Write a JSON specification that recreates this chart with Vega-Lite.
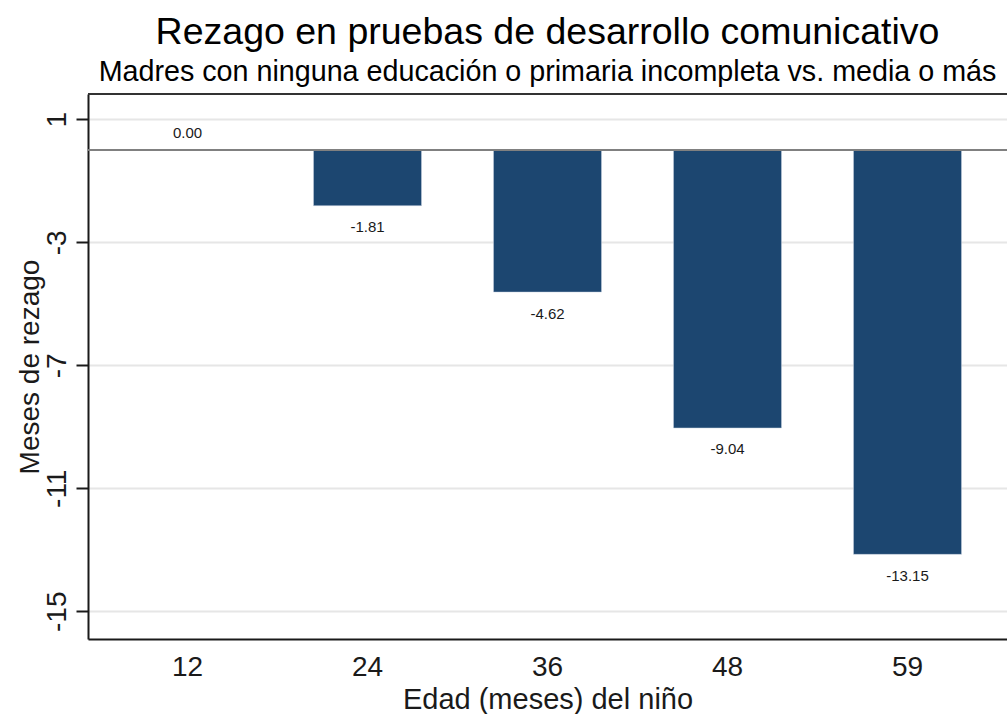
{
  "$schema": "https://vega.github.io/schema/vega-lite/v6.json",
  "autosize": "none",
  "padding": {"left": 88, "top": 94, "right": 0, "bottom": 75},
  "width": 919,
  "height": 545,
  "background": "white",
  "config": {
    "view": {"stroke": null},
    "font": "Liberation Sans",
    "locale": {"number": {"decimal": ".", "thousands": ",", "grouping": [3], "currency": ["$", ""], "minus": "-"}},
    "axis": {"labelFont": "Liberation Sans", "titleFont": "Liberation Sans", "titleFontWeight": "normal"}
  },
  "title": {
    "text": "Rezago en pruebas de desarrollo comunicativo",
    "subtitle": "Madres con ninguna educación o primaria incompleta vs. media o más",
    "font": "Liberation Sans",
    "subtitleFont": "Liberation Sans",
    "fontSize": 37.5,
    "fontWeight": "normal",
    "subtitleFontSize": 28.7,
    "color": "#000000",
    "subtitleColor": "#000000",
    "anchor": "middle",
    "frame": "group",
    "offset": 6,
    "subtitlePadding": 7
  },
  "data": {
    "values": [
      {"edad": "12", "rezago": 0.0},
      {"edad": "24", "rezago": -1.81},
      {"edad": "36", "rezago": -4.62},
      {"edad": "48", "rezago": -9.04},
      {"edad": "59", "rezago": -13.15}
    ]
  },
  "encoding": {
    "x": {
      "field": "edad",
      "type": "ordinal",
      "sort": ["12", "24", "36", "48", "59"],
      "scale": {"paddingInner": 0.4, "paddingOuter": 0.2528},
      "axis": {
        "title": "Edad (meses) del niño",
        "labelAngle": 0,
        "labelFontSize": 28,
        "labelColor": "#1a1a1a",
        "labelBaseline": "alphabetic",
        "labelPadding": 36,
        "ticks": false,
        "tickSize": 0,
        "domainColor": "#1a1a1a",
        "domainWidth": 2,
        "titleFontSize": 29,
        "titleColor": "#1a1a1a",
        "titleBaseline": "alphabetic",
        "titleX": 459.5,
        "titleY": 69,
        "titleAlign": "center"
      }
    }
  },
  "layer": [
    {
      "mark": {"type": "bar", "color": "#1c4670", "stroke": "#c8d3e0", "strokeWidth": 0.5},
      "encoding": {
        "y": {
          "field": "rezago",
          "type": "quantitative",
          "scale": {"domain": [-15.902, 1.821], "nice": false, "zero": false},
          "axis": {
            "title": "Meses de rezago",
            "values": [1, -3, -7, -11, -15],
            "labelAngle": 270,
            "labelAlign": "center",
            "labelBaseline": "alphabetic",
            "labelPadding": 11,
            "labelFontSize": 28,
            "labelColor": "#1a1a1a",
            "tickSize": 12,
            "tickWidth": 2,
            "tickColor": "#1a1a1a",
            "domainColor": "#1a1a1a",
            "domainWidth": 2,
            "grid": true,
            "gridColor": "#e6e6e6",
            "gridWidth": 2,
            "titleFontSize": 28,
            "titleColor": "#1a1a1a",
            "titleAngle": 270,
            "titleAlign": "center",
            "titleBaseline": "alphabetic",
            "titleX": -50,
            "titleY": 272.5
          }
        }
      }
    },
    {
      "mark": {"type": "rule", "color": "#808080", "strokeWidth": 2},
      "encoding": {"y": {"datum": 0, "type": "quantitative"}, "x": {"value": 0}, "x2": {"value": 919}}
    },
    {
      "mark": {"type": "rule", "color": "#333333", "strokeWidth": 2},
      "encoding": {"y": {"datum": 1.821, "type": "quantitative"}, "x": {"value": 0}, "x2": {"value": 919}}
    },
    {
      "transform": [{"filter": "datum.rezago < 0"}],
      "mark": {"type": "text", "fontSize": 15, "color": "#1a1a1a", "baseline": "alphabetic", "align": "center", "dy": 26.5},
      "encoding": {
        "y": {"field": "rezago", "type": "quantitative"},
        "text": {"field": "rezago", "type": "quantitative", "format": ".2f"}
      }
    },
    {
      "transform": [{"filter": "datum.rezago >= 0"}],
      "mark": {"type": "text", "fontSize": 15, "color": "#1a1a1a", "baseline": "alphabetic", "align": "center", "dy": -12},
      "encoding": {
        "y": {"field": "rezago", "type": "quantitative"},
        "text": {"field": "rezago", "type": "quantitative", "format": ".2f"}
      }
    }
  ]
}
